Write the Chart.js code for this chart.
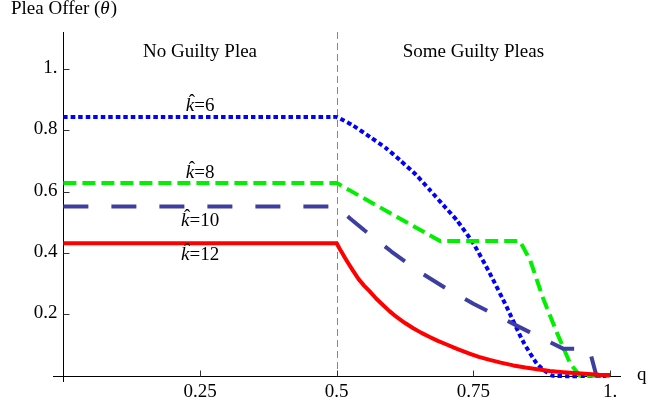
<!DOCTYPE html>
<html>
<head>
<meta charset="utf-8">
<script src="https://cdn.jsdelivr.net/npm/chart.js@4.4.1/dist/chart.umd.min.js"></script>
<style>
  body { margin: 0; background: #ffffff; }
  canvas { display: block; }
</style>
</head>
<body>
<canvas id="chart_plea" width="648" height="404"></canvas>
<script>
/************************************************************
    DATA
*************************************************************/
var kHat = [6, 8, 10, 12];

// k-hat = 6 (blue, dotted)
var k6Q     = [0, 0.49, 0.5, 0.53, 0.561, 0.59, 0.616, 0.645, 0.671, 0.695, 0.72, 0.75, 0.78, 0.811, 0.84, 0.866, 0.884, 0.896, 1];
var k6Theta = [0.843, 0.843, 0.843, 0.815, 0.778, 0.742, 0.702, 0.655, 0.604, 0.556, 0.506, 0.431, 0.334, 0.224, 0.115, 0.04, 0.012, 0, 0];

// k-hat = 8 (green, dashed)
var k8Q     = [0, 0.5, 0.689, 0.835, 0.854, 0.878, 0.903, 0.927, 0.945, 1];
var k8Theta = [0.628, 0.628, 0.439, 0.439, 0.376, 0.25, 0.14, 0.04, 0, 0];

// k-hat = 10 (navy, long dashes)
var k10Q     = [0, 0.5, 0.525, 0.55, 0.6, 0.65, 0.7, 0.75, 0.8, 0.85, 0.915, 0.962, 0.975, 1];
var k10Theta = [0.552, 0.552, 0.512, 0.475, 0.405, 0.34, 0.285, 0.235, 0.19, 0.145, 0.088, 0.088, 0, 0];

// k-hat = 12 (red, solid)
var k12Q     = [0, 0.5, 0.505, 0.51, 0.515, 0.52, 0.53, 0.54, 0.55, 0.56, 0.572, 0.585, 0.597, 0.61, 0.625, 0.64, 0.655, 0.671, 0.685, 0.7, 0.72, 0.744, 0.76, 0.78, 0.8, 0.823, 0.845, 0.87, 0.89, 0.914, 0.935, 0.96, 0.98, 1];
var k12Theta = [0.432, 0.432, 0.415, 0.4, 0.385, 0.37, 0.342, 0.315, 0.294, 0.276, 0.252, 0.23, 0.21, 0.191, 0.172, 0.155, 0.14, 0.126, 0.114, 0.103, 0.088, 0.072, 0.062, 0.052, 0.043, 0.034, 0.027, 0.021, 0.016, 0.012, 0.009, 0.006, 0.004, 0.003];

// axis ticks
var qTicks = [0.25, 0.5, 0.75, 1];
var qTickLabels = ['0.25', '0.5', '0.75', '1.'];
var thetaTicks = [0.2, 0.4, 0.6, 0.8, 1];
var thetaTickLabels = ['0.2', '0.4', '0.6', '0.8', '1.'];

//pair up q and theta for the library
function toPoints(q, theta) {
    return q.map(function (v, i) { return { x: v, y: theta[i] }; });
}

var FONT = '"Liberation Serif", "Times New Roman", serif';

/************************************************************
    Axes, ticks and notes drawn on the chart's own scales
*************************************************************/
var axesPlugin = {
    id: 'mathAxes',
    beforeDatasetsDraw: function (chart) {
        var ctx = chart.ctx, xs = chart.scales.x, ys = chart.scales.y, area = chart.chartArea;
        var x0 = Math.round(xs.getPixelForValue(0)) + 0.5;
        var y0 = Math.round(ys.getPixelForValue(0)) + 0.5;
        ctx.save();

        // regime boundary at q = 0.5
        var xm = Math.round(xs.getPixelForValue(0.5)) + 0.5;
        ctx.strokeStyle = '#888888';
        ctx.lineWidth = 1;
        ctx.setLineDash([7, 4]);
        ctx.beginPath();
        ctx.moveTo(xm, area.top);
        ctx.lineTo(xm, y0);
        ctx.stroke();
        ctx.setLineDash([]);

        // axes
        ctx.strokeStyle = '#000000';
        ctx.beginPath();
        ctx.moveTo(area.left, y0);
        ctx.lineTo(area.right, y0);
        ctx.moveTo(x0, area.top);
        ctx.lineTo(x0, area.bottom);
        ctx.stroke();

        // ticks
        ctx.strokeStyle = '#333333';
        ctx.beginPath();
        qTicks.forEach(function (t) {
            var px = Math.round(xs.getPixelForValue(t)) + 0.5;
            ctx.moveTo(px, y0);
            ctx.lineTo(px, y0 - 6);
        });
        thetaTicks.forEach(function (t) {
            var py = Math.round(ys.getPixelForValue(t)) + 0.5;
            ctx.moveTo(x0, py);
            ctx.lineTo(x0 + 6, py);
        });
        ctx.stroke();

        // tick labels
        ctx.fillStyle = '#000000';
        ctx.font = '19px ' + FONT;
        ctx.textAlign = 'center';
        ctx.textBaseline = 'alphabetic';
        qTicks.forEach(function (t, i) {
            ctx.fillText(qTickLabels[i], xs.getPixelForValue(t), y0 + 20);
        });
        ctx.textAlign = 'right';
        ctx.textBaseline = 'middle';
        thetaTicks.forEach(function (t, i) {
            ctx.fillText(thetaTickLabels[i], x0 - 6, ys.getPixelForValue(t) - 1);
        });
        ctx.restore();
    },
    afterDatasetsDraw: function (chart) {
        var ctx = chart.ctx, xs = chart.scales.x, ys = chart.scales.y;
        ctx.save();
        ctx.fillStyle = '#000000';
        ctx.textBaseline = 'alphabetic';

        // axis titles
        ctx.textAlign = 'left';
        var tx = 11, ty = 14;
        ctx.font = '19px ' + FONT;
        ctx.fillText('Plea Offer (', tx, ty);
        tx += ctx.measureText('Plea Offer (').width;
        ctx.font = 'italic 19px ' + FONT;
        ctx.fillText('\u03b8', tx, ty);
        tx += ctx.measureText('\u03b8').width + 1;
        ctx.font = '19px ' + FONT;
        ctx.fillText(')', tx, ty);
        ctx.fillText('q', 637, ys.getPixelForValue(0) + 4);

        // regime names
        ctx.textAlign = 'center';
        ctx.fillText('No Guilty Plea', xs.getPixelForValue(0.25), ys.getPixelForValue(1.037));
        ctx.fillText('Some Guilty Pleas', xs.getPixelForValue(0.75), ys.getPixelForValue(1.037));

        // curve labels: italic k with a hat, then "=n"
        var labelTheta = [0.862, 0.643, 0.488, 0.376];
        kHat.forEach(function (k, i) {
            var rest = '=' + k;
            ctx.font = 'italic 19px ' + FONT;
            var wk = ctx.measureText('k').width;
            ctx.font = '19px ' + FONT;
            var wr = ctx.measureText(rest).width;
            var left = xs.getPixelForValue(0.25) - (wk + wr) / 2;
            var base = ys.getPixelForValue(labelTheta[i]);
            ctx.textAlign = 'left';
            ctx.font = 'italic 19px ' + FONT;
            ctx.fillText('k', left, base);
            ctx.font = '19px ' + FONT;
            ctx.fillText('\u02c6', left + 3, base - 4);
            ctx.fillText(rest, left + wk, base);
        });
        ctx.restore();
    }
};

/* ------------------
  line chart
-------------------*/
new Chart(document.getElementById('chart_plea'), {
    type: 'line',
    data: {
        datasets: [
            {
                label: 'k=12',
                data: toPoints(k12Q, k12Theta),
                borderColor: '#ff0000',
                borderWidth: 4
            },
            {
                label: 'k=10',
                data: toPoints(k10Q, k10Theta),
                borderColor: '#3e3ea0',
                borderWidth: 4,
                borderDash: [25, 23]
            },
            {
                label: 'k=8',
                data: toPoints(k8Q, k8Theta),
                borderColor: '#00f000',
                borderWidth: 4,
                borderDash: [13, 6]
            },
            {
                label: 'k=6',
                data: toPoints(k6Q, k6Theta),
                borderColor: '#0000ff',
                borderWidth: 4,
                borderDash: [4.5, 3],
                tension: 0.2
            }
        ]
    },
    options: {
        responsive: false,
        animation: false,
        devicePixelRatio: 1,
        elements: {
            point: { radius: 0 },
            line: { tension: 0, fill: false, borderCapStyle: 'butt', borderJoinStyle: 'round' }
        },
        layout: { padding: { left: 53, right: 27, top: 32, bottom: 22 } },
        scales: {
            x: { type: 'linear', min: -0.019, max: 1.02, display: false },
            y: { type: 'linear', min: -0.02, max: 1.12, display: false }
        },
        plugins: {
            legend: { display: false },
            tooltip: { enabled: false }
        }
    },
    plugins: [axesPlugin]
});
</script>
</body>
</html>
